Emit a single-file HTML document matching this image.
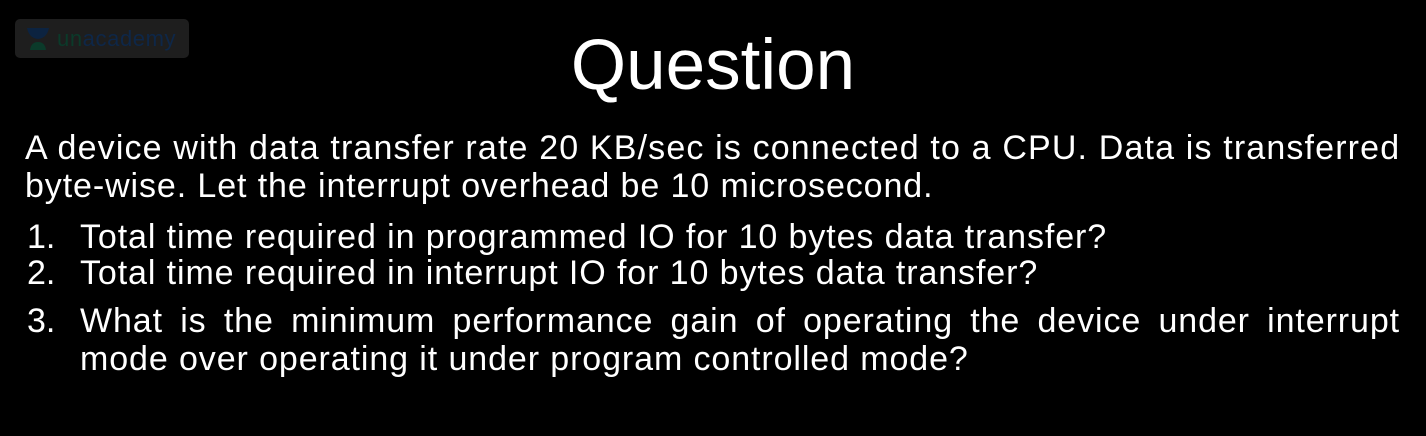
<!DOCTYPE html>
<html><head><style>
body{margin:0;width:1426px;height:436px;background:#000;overflow:hidden;position:relative;font-family:"Liberation Sans",Arial,sans-serif;color:#fff}
.l{position:absolute;font-size:34px;white-space:nowrap;line-height:1;letter-spacing:0.9px}
.n{position:absolute;left:27px;font-size:34px;line-height:1}
.logo{position:absolute;left:15px;top:19px;width:174px;height:39px;background:#1e1e1e;border-radius:5px}
</style></head><body>
<div class="logo">
<svg style="position:absolute;left:12px;top:9px" width="22" height="22"><path d="M0 0 H22 Q20 10 11 11 Q2 10 0 0Z" fill="#0c2340"/><path d="M3 22 Q4 14 11 14 Q18 14 19 22Z" fill="#0b3a2a"/></svg>
<span style="position:absolute;left:42px;top:7px;font-size:22px;letter-spacing:0.6px;color:#0b3a2a">un<span style="color:#0e2748">academy</span></span>
</div>
<div style="position:absolute;left:0;width:1426px;top:30px;text-align:center;font-size:71px;line-height:1">Question</div>
<div class="l" style="left:25px;top:131px;letter-spacing:1.15px">A device with data transfer rate 20 KB/sec is connected to a CPU. Data is transferred</div>
<div class="l" style="left:25px;top:169px">byte-wise. Let the interrupt overhead be 10 microsecond.</div>
<div class="n" style="top:220px">1.</div>
<div class="l" style="left:80px;top:220px">Total time required in programmed IO for 10 bytes data transfer?</div>
<div class="n" style="top:256px">2.</div>
<div class="l" style="left:80px;top:256px">Total time required in interrupt IO for 10 bytes data transfer?</div>
<div class="n" style="top:304px">3.</div>
<div class="l" style="left:80px;top:304px;width:1320px;white-space:normal;text-align:justify;text-align-last:justify;height:36px;overflow:hidden">What is the minimum performance gain of operating the device under interrupt</div>
<div class="l" style="left:80px;top:342px">mode over operating it under program controlled mode?</div>
</body></html>
